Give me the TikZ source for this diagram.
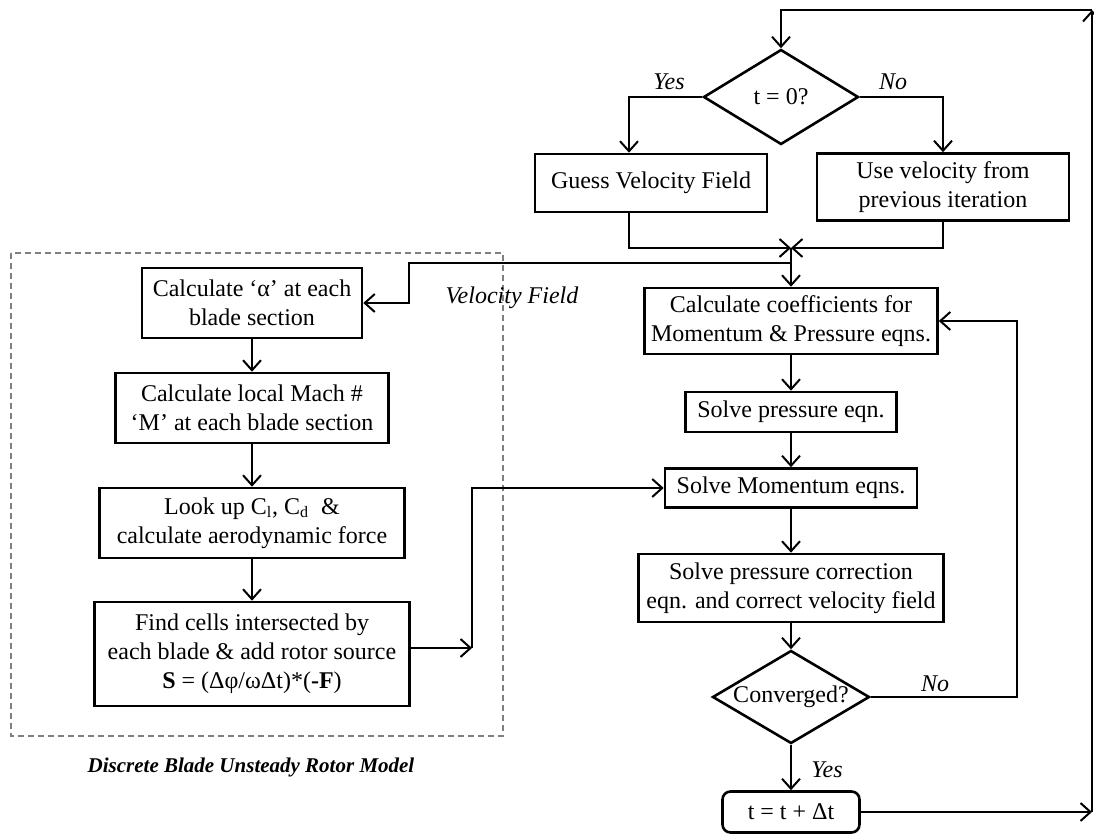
\documentclass[tikz,border=0pt]{standalone}
\usepackage{fontspec}
\setmainfont{Liberation Serif}
\usetikzlibrary{shapes.geometric,arrows.meta}

\begin{document}
\begin{tikzpicture}[x=0.5pt, y=-0.5pt, line width=1pt,
  every node/.style={font=\fontsize{12}{14.5}\selectfont, align=center},
  box/.style={draw, line width=1.3pt, inner sep=0pt},
  dec/.style={draw, diamond, line width=1.3pt, inner sep=0pt},
  note/.style={font=\fontsize{12}{14.5}\selectfont\itshape},
  >={Straight Barb[length=5pt,width=9pt]}]
  \useasboundingbox (0,0) rectangle (1094,834);

  % Rotor model
  \draw[gray, line width=0.6pt, dash pattern=on 3pt off 2pt] (11,253) rectangle (503,736);
  \node[box, minimum width=110pt, minimum height=35pt] (calcA) at (252,303) {Calculate ‘α’ at each\\blade section};
  \node[box, minimum width=136.5pt, minimum height=35pt] (mach) at (252,408) {Calculate local Mach \#\\‘M’ at each blade section};
  \node[box, minimum width=152.5pt, minimum height=35pt] (lookup) at (252,523) {Look up C\textsubscript{l}, C\textsubscript{d}~ \&\\calculate aerodynamic force};
  \node[box, minimum width=157.5pt, minimum height=52pt] (find) at (252,654) {Find cells intersected by\\each blade \& add rotor source\\\textbf{S} = (Δφ/ωΔt)*(\textbf{-F})};
  \node[font=\fontsize{10.5}{12}\selectfont\bfseries\itshape] (cap) at (251,767) {Discrete Blade Unsteady Rotor Model};
  \draw[->] (calcA) -- (mach);
  \draw[->] (mach) -- (lookup);
  \draw[->] (lookup) -- (find);

  % Solver
  \node[dec, aspect=1.63, minimum width=77.5pt, minimum height=47.5pt] (t0) at (781,97) {t = 0?};
  \node[box, minimum width=116pt, minimum height=29pt] (guess) at (651,183) {Guess Velocity Field};
  \node[box, minimum width=126pt, minimum height=33.5pt] (usevel) at (943,187) {Use velocity from\\previous iteration};
  \node[box, minimum width=146.5pt, minimum height=33pt] (coef) at (791,321) {Calculate coefficients for\\Momentum \& Pressure eqns.};
  \node[box, minimum width=105.5pt, minimum height=20pt] (spress) at (791,412) {Solve pressure eqn.};
  \node[box, minimum width=126pt, minimum height=19.5pt] (smom) at (791,488) {Solve Momentum eqns.};
  \node[box, minimum width=152.5pt, minimum height=34pt] (pcorr) at (791,588) {Solve pressure correction\\eqn. and correct velocity field};
  \node[dec, aspect=1.7, minimum width=78.5pt, minimum height=46.5pt] (conv) at (791,697) {Converged?};
  \node[box, rounded corners=4pt, minimum width=68.5pt, minimum height=20.5pt] (tstep) at (791,812) {t = t + Δt};

  \node[note] (yes1) at (669,82) {Yes};
  \node[note] (no1) at (893,82) {No};
  \node[note] (no2) at (935,684) {No};
  \node[note] (yes2) at (827,770) {Yes};
  \node[note] (vel) at (512,298) {Velocity Field};

  \coordinate (tr) at (1092,10);
  \coordinate (br) at (1092,812);
  \coordinate (mg) at (791,248);
  \coordinate (vf) at (791,263);
  \coordinate (vb) at (409,263);
  \coordinate (fc) at (472,648);
  \coordinate (nr) at (1017,321);

  \draw[->] (tr) -| (t0.north);
  \draw[->] (t0.west) -| ([xshift=-11pt]guess.north);
  \draw[->] (t0.east) -| (usevel.north);
  \draw[->] ([xshift=-11pt]guess.south) |- (mg);
  \draw[->] (usevel.south) |- (mg);
  \draw[->] (mg) -- (coef.north);
  \draw[->] (vf) -- (vb) |- (calcA.east);
  \draw[->] ([yshift=3pt]find.east) -- (fc);
  \draw[->] (fc) |- (smom.west);
  \draw[->] (coef) -- (spress);
  \draw[->] (spress) -- (smom);
  \draw[->] (smom) -- (pcorr);
  \draw[->] (pcorr) -- (conv);
  \draw[->] (conv) -- (tstep);
  \draw[->] (conv.east) -| (nr) -- (coef.east);
  \draw[->] (tstep) -- (br);
  \draw[->] (br) -- (tr);
\end{tikzpicture}
\end{document}
